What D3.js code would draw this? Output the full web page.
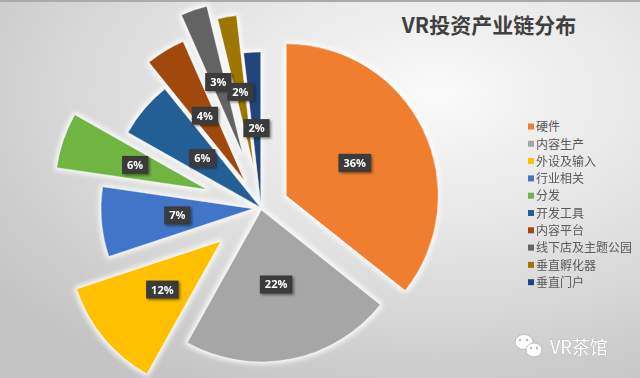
<!DOCTYPE html>
<html>
<head>
<meta charset="utf-8">
<script src="https://cdn.jsdelivr.net/npm/d3@7"></script>
<style>
  body { margin: 0; }
  svg { display: block; }
</style>
</head>
<body>
<div id="chart"></div>
<script>
// shares (labels show them rounded)
const categories = ["硬件", "内容生产", "外设及输入", "行业相关", "分发", "开发工具", "内容平台", "线下店及主题公园", "垂直孵化器", "垂直门户"];
const shares = [35.7, 22.4, 11.8, 7.4, 5.9, 6.0, 4.2, 2.8, 2.0, 1.8];
// how far each slice is pulled out of the pie (px)
const explode = [28, 2, 52, 8, 57, 1, 32, 57, 42, 4];

const colors = ["#ef7e2f", "#a6a6a6", "#ffc000", "#4174c9", "#6fb443",
                "#225f95", "#a1480c", "#636363", "#9c7600", "#22447c"];

let svgWidth = 640, svgHeight = 378;
let cx = 261, cy = 208, radius = 152;

let svg = d3.select("#chart").append("svg")
    .attr("width", svgWidth)
    .attr("height", svgHeight);

let defs = svg.append("defs");

let bg = defs.append("radialGradient")
    .attr("id", "bg")
    .attr("cx", "68%").attr("cy", "25%").attr("r", "85%");
bg.append("stop").attr("offset", "0%").attr("stop-color", "#fafafa");
bg.append("stop").attr("offset", "50%").attr("stop-color", "#e2e2e2");
bg.append("stop").attr("offset", "100%").attr("stop-color", "#c4c4c4");

let glow = defs.append("filter").attr("id", "glow")
    .attr("x", "-20%").attr("y", "-20%").attr("width", "140%").attr("height", "140%");
glow.append("feMorphology").attr("in", "SourceAlpha").attr("operator", "dilate").attr("radius", 2).attr("result", "d");
glow.append("feGaussianBlur").attr("in", "d").attr("stdDeviation", 2.5).attr("result", "b");
glow.append("feFlood").attr("flood-color", "#ffffff").attr("flood-opacity", 0.85);
glow.append("feComposite").attr("in2", "b").attr("operator", "in").attr("result", "g");
let gm = glow.append("feMerge");
gm.append("feMergeNode").attr("in", "g");
gm.append("feMergeNode").attr("in", "SourceGraphic");

let shadow = defs.append("filter").attr("id", "shadow")
    .attr("x", "-30%").attr("y", "-30%").attr("width", "160%").attr("height", "160%");
shadow.append("feDropShadow").attr("dx", 1.5).attr("dy", 1.5).attr("stdDeviation", 1)
    .attr("flood-color", "#000").attr("flood-opacity", 0.45);

svg.append("rect")
    .attr("width", svgWidth).attr("height", svgHeight)
    .attr("fill", "url(#bg)");

svg.append("rect")
    .attr("width", svgWidth).attr("height", 2)
    .attr("fill", "#aaaaaa");

// title
svg.append("text")
    .attr("x", 489).attr("y", 33)
    .attr("text-anchor", "middle")
    .attr("font-family", "'Noto Sans CJK SC', 'Noto Sans', sans-serif")
    .attr("font-weight", "bold")
    .attr("font-size", 21)
    .attr("fill", "#404040")
    .text("VR投资产业链分布");

let pie = d3.pie().sort(null).value(d => d);
let arcs = pie(shares);
let arc = d3.arc().innerRadius(0).outerRadius(radius);

function offset(d, i) {
    let a = (d.startAngle + d.endAngle) / 2;
    return [cx + explode[i] * Math.sin(a), cy - explode[i] * Math.cos(a)];
}

let slices = svg.append("g").attr("filter", "url(#glow)");
slices.selectAll("path")
    .data(arcs)
    .enter()
    .append("path")
    .attr("transform", (d, i) => "translate(" + offset(d, i) + ")")
    .attr("d", arc)
    .attr("fill", (d, i) => colors[i])
    .attr("stroke", "#ffffff")
    .attr("stroke-opacity", 0.5)
    .attr("stroke-width", 0.8);

// data labels
let labels = svg.selectAll(".lbl")
    .data(arcs)
    .enter()
    .append("g")
    .attr("class", "lbl")
    .attr("transform", function(d, i) {
        let o = offset(d, i), c = arc.centroid(d);
        return "translate(" + (o[0] + c[0]) + "," + (o[1] + c[1]) + ")";
    });

labels.append("rect")
    .attr("fill", "#3a3a3a")
    .attr("filter", "url(#shadow)");

labels.append("text")
    .attr("text-anchor", "middle")
    .attr("dy", "0.36em")
    .attr("font-family", "'Open Sans', 'DejaVu Sans', sans-serif")
    .attr("font-weight", "bold")
    .attr("font-size", 11)
    .attr("fill", "#ffffff")
    .text(d => Math.round(d.data) + "%");

labels.each(function() {
    let g = d3.select(this);
    let w = g.select("text").node().getComputedTextLength() + 10;
    g.select("rect")
        .attr("x", -w / 2).attr("y", -9)
        .attr("width", w).attr("height", 18);
});

// legend
let legend = svg.selectAll(".legend")
    .data(categories)
    .enter()
    .append("g")
    .attr("class", "legend")
    .attr("transform", (d, i) => "translate(528," + (127 + i * 17.3) + ")");

legend.append("rect")
    .attr("x", 0).attr("y", -3.5)
    .attr("width", 6).attr("height", 6)
    .attr("fill", (d, i) => colors[i]);

legend.append("text")
    .attr("x", 8)
    .attr("dy", "0.35em")
    .attr("font-family", "'Noto Sans CJK SC', sans-serif")
    .attr("font-size", 12)
    .attr("fill", "#595959")
    .text(d => d);

// watermark
let wm = svg.append("g");
wm.append("ellipse").attr("cx", 524).attr("cy", 342).attr("rx", 9).attr("ry", 7.5)
    .attr("fill", "#ffffff").attr("stroke", "#b0b0b0").attr("stroke-width", 0.8);
wm.append("ellipse").attr("cx", 534).attr("cy", 350).attr("rx", 8).attr("ry", 7)
    .attr("fill", "#ffffff").attr("stroke", "#b0b0b0").attr("stroke-width", 0.8);
[[520, 340], [527, 340], [531, 348], [537, 348]].forEach(p => {
    wm.append("circle").attr("cx", p[0]).attr("cy", p[1]).attr("r", 1.2).attr("fill", "#b5b5b5");
});
wm.append("text")
    .attr("x", 550).attr("y", 354)
    .attr("font-family", "'Noto Sans CJK SC', sans-serif")
    .attr("font-size", 18)
    .attr("fill", "#ffffff")
    .attr("stroke", "#a8a8a8")
    .attr("stroke-width", 0.5)
    .attr("paint-order", "stroke")
    .text("VR茶馆");
</script>
</body>
</html>
